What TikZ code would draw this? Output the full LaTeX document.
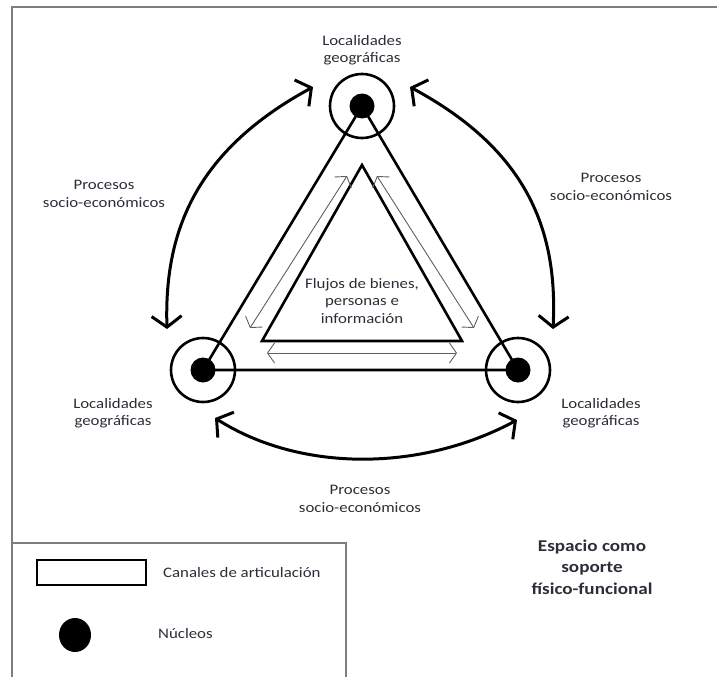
\documentclass[tikz,border=0pt]{standalone}
\usepackage{fontspec}
\setmainfont[FakeStretch=1.16]{Carlito}
\usetikzlibrary{arrows.meta}
\definecolor{ink}{RGB}{45,45,55}
\definecolor{framegray}{RGB}{125,125,125}
\definecolor{flowgray}{RGB}{95,95,95}
\begin{document}
\begin{tikzpicture}[x=1pt,y=-1pt,
  lbl/.style={text=ink, font=\fontsize{14.5}{17.5}\selectfont, align=center, inner sep=0pt},
  title/.style={text=ink, font=\fontsize{16.5}{21.5}\selectfont\bfseries, align=center, inner sep=0pt},
  ring/.style={circle, draw, line width=2.6pt, minimum size=64pt, inner sep=0pt},
  nucleus/.style={circle, fill=black, minimum size=25pt, inner sep=0pt},
  channel/.style={line width=2.6pt, line join=miter},
  flow/.style={draw=flowgray, line width=0.9pt,
    {Straight Barb[length=7pt,width=20pt]}-{Straight Barb[length=7pt,width=20pt]}},
  process/.style={line width=3pt, line cap=round,
    {Straight Barb[length=11pt,width=30pt]}-{Straight Barb[length=11pt,width=30pt]}},
  frame/.style={draw=framegray, line width=2pt}]

\useasboundingbox (0,0) rectangle (717,677);

% outer frame and legend box
\draw[frame] (717,7) -- (12,7) -- (12,677);
\draw[frame] (12,543) -- (346,543) -- (346,677);

% localities: rings with nuclei
\node[ring] (ct) at (362,106) {};
\node[ring] (cl) at (203,370) {};
\node[ring] (cr) at (518,370) {};
\node[nucleus] (nt) at (362,106) {};
\node[nucleus] (nl) at (203,370) {};
\node[nucleus] (nr) at (518,370) {};

% articulation channels between nuclei
\draw[channel] (nt.center) -- (nl.center) -- (nr.center) -- cycle;

% inner triangle
\coordinate (ia) at (362,165);
\coordinate (ib) at (262,341);
\coordinate (ic) at (462,341);
\draw[channel] (ia) -- (ib) -- (ic) -- cycle;

% flows along the channels
\coordinate (fl1) at (250,328);
\coordinate (fl2) at (347,176);
\coordinate (fr1) at (377,176);
\coordinate (fr2) at (474,328);
\coordinate (fb1) at (267,353);
\coordinate (fb2) at (457,353);
\draw[flow] (fl1) -- (fl2);
\draw[flow] (fr1) -- (fr2);
\draw[flow] (fb1) -- (fb2);

% socio-economic processes
\coordinate (pl1) at (167,329);
\coordinate (pl2) at (313,87);
\coordinate (pr1) at (410,87);
\coordinate (pr2) at (553,329);
\coordinate (pb1) at (215,418);
\coordinate (pb2) at (517,420);
\draw[process] (pl1) .. controls (164,230) and (197,150) .. (pl2);
\draw[process] (pr1) .. controls (527,150) and (558,230) .. (pr2);
\draw[process] (pb1) .. controls (300,472) and (420,472) .. (pb2);

% labels
\node[lbl] (lt) at (362,50) {Localidades\\geográficas};
\node[lbl] (ll) at (113,413) {Localidades\\geográficas};
\node[lbl] (lr) at (601,413) {Localidades\\geográficas};
\node[lbl] (ql) at (104,194) {Procesos\\socio-económicos};
\node[lbl] (qr) at (611,187) {Procesos\\socio-económicos};
\node[lbl] (qb) at (360,499) {Procesos\\socio-económicos};
\node[lbl] (fx) at (362,301) {Flujos de bienes,\\personas e\\información};

% legend
\draw[line width=2.6pt] (37,560) rectangle (146,585);
\node[lbl, anchor=west] (lc) at (163,573) {Canales de articulación};
\fill (75,635) ellipse [x radius=16, y radius=17];
\node[lbl, anchor=west] (ln) at (158,634) {Núcleos};

% title
\node[title] (tt) at (592,567) {Espacio como\\soporte\\físico-funcional};
\end{tikzpicture}
\end{document}
